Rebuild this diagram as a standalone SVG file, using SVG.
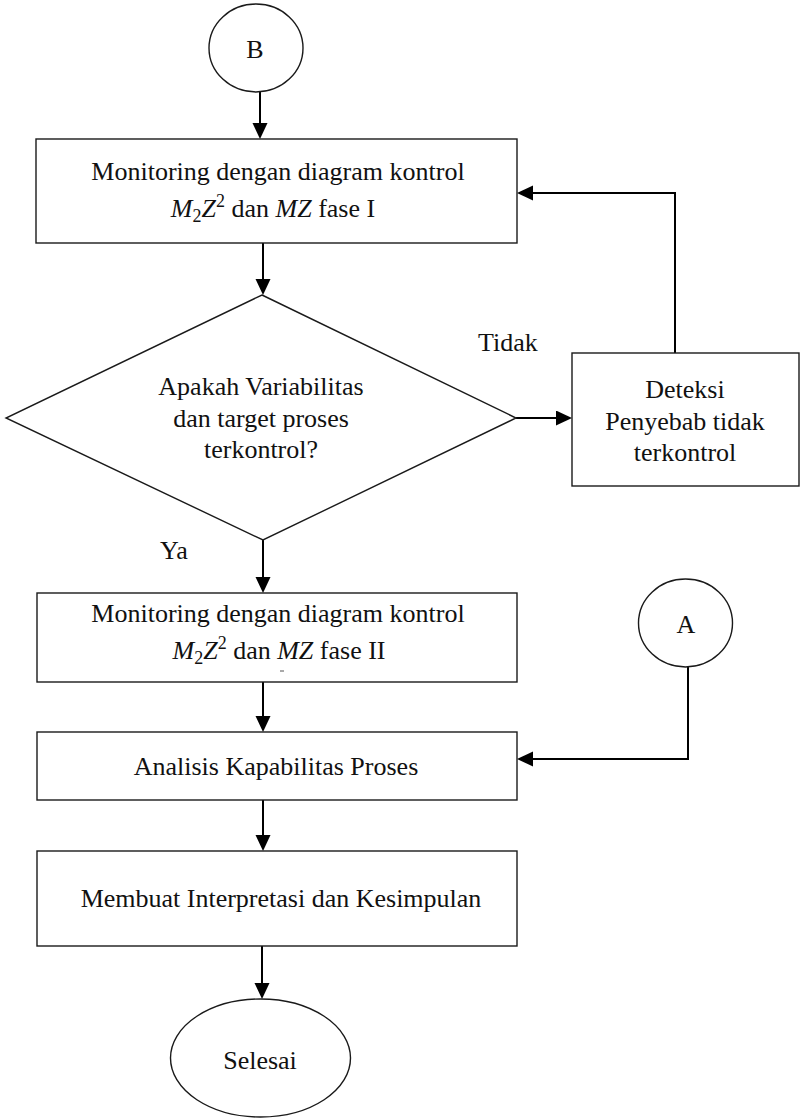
<svg xmlns="http://www.w3.org/2000/svg" width="801" height="1118" viewBox="0 0 801 1118">
  <style>
    .shape { fill: #ffffff; stroke: #1a1a1a; stroke-width: 1.4; }
    .wire { fill: none; stroke: #000000; stroke-width: 2; }
    text { font-family: "Liberation Serif", "Times New Roman", serif; font-size: 26px; fill: #111111; }
    .c { text-anchor: middle; }
    .m { font-style: italic; }
    .s { font-size: 18px; }
  </style>
  <defs>
    <marker id="arrow" markerUnits="userSpaceOnUse" markerWidth="17" markerHeight="16" refX="13" refY="7.5" orient="auto">
      <path d="M0,0 L16,7.5 L0,15 z" fill="#000000"/>
    </marker>
  </defs>
  <rect width="801" height="1118" fill="#ffffff"/>

  <!-- connectors -->
  <g id="connectors">
    <path class="wire" d="M260,92 L260,136" marker-end="url(#arrow)"/>
    <path class="wire" d="M263,243 L263,292" marker-end="url(#arrow)"/>
    <path class="wire" d="M263,540 L263,590" marker-end="url(#arrow)"/>
    <path class="wire" d="M516,418 L569,418" marker-end="url(#arrow)"/>
    <path class="wire" d="M675,353 L675,193 L520,193" marker-end="url(#arrow)"/>
    <path class="wire" d="M263,682 L263,729" marker-end="url(#arrow)"/>
    <path class="wire" d="M688,667 L688,759 L520,759" marker-end="url(#arrow)"/>
    <path class="wire" d="M263,800 L263,848" marker-end="url(#arrow)"/>
    <path class="wire" d="M262,946 L262,996" marker-end="url(#arrow)"/>
  </g>

  <!-- connector B -->
  <g id="node-b">
    <ellipse class="shape" cx="256" cy="48" rx="47" ry="44"/>
    <text class="c" x="255" y="58">B</text>
  </g>

  <!-- phase I monitoring -->
  <g id="node-monitor1">
    <rect class="shape" x="36" y="139" width="481" height="104"/>
    <text class="c" x="278" y="180">Monitoring dengan diagram kontrol</text>
    <text class="c" x="273" y="217"><tspan class="m">M</tspan><tspan class="s" dy="5">2</tspan><tspan class="m" dy="-5">Z</tspan><tspan class="s" dy="-10">2</tspan><tspan dy="10"> dan </tspan><tspan class="m">MZ</tspan> fase I</text>
  </g>

  <!-- decision -->
  <g id="node-decision">
    <polygon class="shape" points="262,295 516,418 263,540 6,418"/>
    <text class="c" x="261" y="395">Apakah Variabilitas</text>
    <text class="c" x="261" y="426.5">dan target proses</text>
    <text class="c" x="261" y="458">terkontrol?</text>
  </g>

  <text id="label-tidak" x="478" y="351">Tidak</text>
  <text id="label-ya" x="160" y="559">Ya</text>

  <!-- out-of-control cause detection -->
  <g id="node-deteksi">
    <rect class="shape" x="572" y="353" width="227" height="133"/>
    <text class="c" x="685" y="398">Deteksi</text>
    <text class="c" x="685" y="429.5">Penyebab tidak</text>
    <text class="c" x="685" y="461">terkontrol</text>
  </g>

  <!-- phase II monitoring -->
  <g id="node-monitor2">
    <rect class="shape" x="37" y="593" width="480" height="89"/>
    <text class="c" x="278" y="622">Monitoring dengan diagram kontrol</text>
    <text class="c" x="279" y="659"><tspan class="m">M</tspan><tspan class="s" dy="5">2</tspan><tspan class="m" dy="-5">Z</tspan><tspan class="s" dy="-10">2</tspan><tspan dy="10"> dan  </tspan><tspan class="m">MZ</tspan> fase II</text>
    <line x1="280" y1="671" x2="284" y2="671" stroke="#555555" stroke-width="1"/>
  </g>

  <!-- connector A -->
  <g id="node-a">
    <ellipse class="shape" cx="685.5" cy="623" rx="47" ry="44"/>
    <text class="c" x="686" y="633">A</text>
  </g>

  <!-- capability analysis -->
  <g id="node-analisis">
    <rect class="shape" x="37" y="732" width="480" height="68"/>
    <text class="c" x="276" y="775">Analisis Kapabilitas Proses</text>
  </g>

  <!-- interpretation -->
  <g id="node-kesimpulan">
    <rect class="shape" x="37" y="851" width="480" height="95"/>
    <text class="c" x="281" y="907">Membuat Interpretasi dan Kesimpulan</text>
  </g>

  <!-- end -->
  <g id="node-selesai">
    <ellipse class="shape" cx="260.5" cy="1058" rx="90" ry="59"/>
    <text class="c" x="260" y="1069">Selesai</text>
  </g>
</svg>
